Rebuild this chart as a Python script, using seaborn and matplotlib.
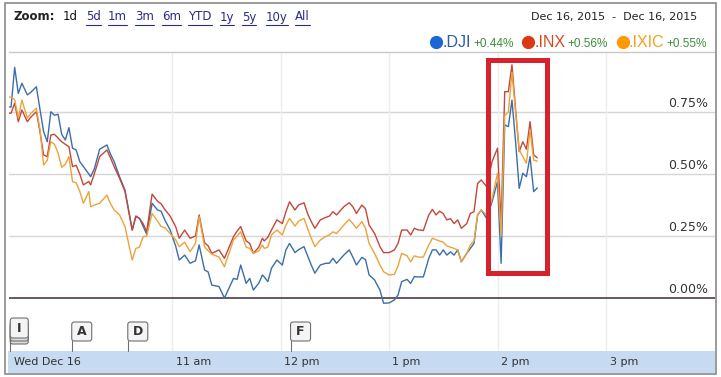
import matplotlib
matplotlib.use("Agg")
import matplotlib.pyplot as plt
import matplotlib.transforms as mtransforms
from matplotlib.patches import Rectangle, FancyBboxPatch
from matplotlib.lines import Line2D
import numpy as np
import pandas as pd
import seaborn as sns

# ---------------- data ----------------
minutes = [0, 1, 3, 5, 7, 10, 12, 15, 17, 19, 21, 23, 25, 27, 29, 31, 33, 35, 37, 39,
           41, 44, 45, 47, 50, 54, 56, 58, 61, 64, 68, 70, 72, 74, 76, 79, 82, 84, 86, 89,
           92, 94, 97, 100, 103, 105, 108, 110, 112, 116, 119, 124, 126, 128, 131, 133, 135, 138, 140, 141,
           143, 145, 148, 151, 153, 155, 158, 160, 163, 165, 167, 169, 172, 175, 177, 179, 181, 185, 188, 190,
           192, 195, 197, 199, 202, 205, 207, 210, 213, 215, 217, 220, 222, 224, 226, 229, 232, 234, 236, 238,
           240, 242, 244, 246, 248, 250, 253, 255, 257, 259, 261, 264, 267, 270, 272, 274, 276, 278, 280, 282,
           284, 286, 288, 290, 292]
dji = [0.77, 0.77, 0.93, 0.825, 0.866, 0.819, 0.83, 0.852, 0.76, 0.671, 0.630, 0.751, 0.737, 0.741, 0.66, 0.637, 0.687, 0.604, 0.597, 0.550,
       0.53, 0.50, 0.489, 0.52, 0.600, 0.617, 0.58, 0.550, 0.489, 0.435, 0.274, 0.328, 0.321, 0.29, 0.257, 0.382, 0.355, 0.35, 0.315, 0.274,
       0.21, 0.153, 0.173, 0.140, 0.15, 0.214, 0.113, 0.105, 0.052, 0.046, 0.0, 0.079, 0.075, 0.133, 0.059, 0.079, 0.032, 0.06, 0.093, 0.085,
       0.066, 0.12, 0.153, 0.133, 0.194, 0.220, 0.183, 0.195, 0.207, 0.17, 0.133, 0.100, 0.133, 0.14, 0.14, 0.160, 0.14, 0.173, 0.194, 0.165,
       0.133, 0.164, 0.155, 0.093, 0.073, 0.032, -0.021, -0.02, -0.008, 0.012, 0.066, 0.075, 0.059, 0.086, 0.085, 0.085, 0.160, 0.194, 0.194, 0.173,
       0.194, 0.173, 0.186, 0.173, 0.194, 0.146, 0.18, 0.200, 0.22, 0.335, 0.355, 0.321, 0.388, 0.469, 0.140, 0.698, 0.691, 0.798, 0.630, 0.442,
       0.503, 0.489, 0.570, 0.429, 0.444]
inx = [0.745, 0.745, 0.786, 0.711, 0.758, 0.711, 0.73, 0.751, 0.67, 0.577, 0.570, 0.657, 0.66, 0.645, 0.63, 0.62, 0.610, 0.53, 0.535, 0.50,
       0.456, 0.47, 0.456, 0.50, 0.570, 0.597, 0.565, 0.530, 0.483, 0.43, 0.274, 0.331, 0.321, 0.30, 0.267, 0.419, 0.39, 0.38, 0.357, 0.33,
       0.288, 0.241, 0.274, 0.241, 0.25, 0.335, 0.223, 0.21, 0.180, 0.194, 0.160, 0.247, 0.27, 0.288, 0.230, 0.220, 0.180, 0.205, 0.241, 0.23,
       0.245, 0.274, 0.315, 0.30, 0.348, 0.388, 0.355, 0.375, 0.384, 0.34, 0.308, 0.281, 0.315, 0.325, 0.33, 0.348, 0.335, 0.368, 0.384, 0.368,
       0.341, 0.375, 0.36, 0.294, 0.261, 0.207, 0.183, 0.183, 0.194, 0.22, 0.274, 0.274, 0.254, 0.281, 0.275, 0.272, 0.335, 0.357, 0.335, 0.35,
       0.34, 0.315, 0.32, 0.30, 0.315, 0.281, 0.30, 0.341, 0.348, 0.462, 0.476, 0.449, 0.550, 0.604, 0.30, 0.832, 0.832, 0.94, 0.76, 0.590,
       0.630, 0.60, 0.711, 0.577, 0.565]
ixic = [0.81, 0.81, 0.80, 0.725, 0.798, 0.725, 0.745, 0.765, 0.68, 0.536, 0.555, 0.63, 0.62, 0.585, 0.527, 0.54, 0.570, 0.469, 0.465, 0.43,
        0.382, 0.429, 0.368, 0.375, 0.382, 0.415, 0.38, 0.355, 0.335, 0.288, 0.153, 0.200, 0.205, 0.247, 0.25, 0.341, 0.31, 0.288, 0.284, 0.26,
        0.235, 0.207, 0.225, 0.187, 0.22, 0.328, 0.207, 0.19, 0.177, 0.165, 0.126, 0.234, 0.25, 0.267, 0.205, 0.200, 0.18, 0.19, 0.214, 0.2,
        0.205, 0.254, 0.274, 0.254, 0.294, 0.321, 0.29, 0.31, 0.321, 0.28, 0.241, 0.207, 0.234, 0.248, 0.254, 0.267, 0.26, 0.294, 0.317, 0.30,
        0.281, 0.308, 0.281, 0.220, 0.180, 0.133, 0.106, 0.093, 0.095, 0.13, 0.180, 0.17, 0.146, 0.17, 0.165, 0.165, 0.214, 0.241, 0.235, 0.23,
        0.225, 0.21, 0.205, 0.20, 0.194, 0.146, 0.18, 0.214, 0.23, 0.335, 0.355, 0.335, 0.402, 0.503, 0.25, 0.735, 0.75, 0.91, 0.75, 0.597,
        0.57, 0.543, 0.677, 0.556, 0.552]

symbols = [".DJI", ".INX", ".IXIC"]
changes = ["+0.44%", "+0.56%", "+0.55%"]
ytick_values = [0.0, 0.25, 0.50, 0.75]
ytick_labels = ["0.00%", "0.25%", "0.50%", "0.75%"]
hour_minutes = [90, 150, 210, 270, 330]
hour_labels = ["11 am", "12 pm", "1 pm", "2 pm", "3 pm"]
day_label = "Wed Dec 16"
zoom_links = ["1d", "5d", "1m", "3m", "6m", "YTD", "1y", "5y", "10y", "All"]
date_range = "Dec 16, 2015  -  Dec 16, 2015"
flag_letters = ["I", "A", "D", "F"]
flag_minutes = [0, 34, 65, 155]

df = pd.concat([
    pd.DataFrame({"minute": minutes, "pct": dji, "symbol": symbols[0]}),
    pd.DataFrame({"minute": minutes, "pct": inx, "symbol": symbols[1]}),
    pd.DataFrame({"minute": minutes, "pct": ixic, "symbol": symbols[2]}),
])

line_colors = {".DJI": "#3b6ea8", ".INX": "#c4473a", ".IXIC": "#eea23c"}
dot_colors = ["#1a66d6", "#dc3912", "#ff9900"]
name_colors = ["#2a5db0", "#d9481c", "#f5a020"]

# ---------------- figure ----------------
sns.set_style("white")
plt.rcParams["font.family"] = ["DejaVu Sans"]
W, H = 721, 377
fig = plt.figure(figsize=(W / 100, H / 100), dpi=100)
fig.patch.set_facecolor("white")
ident = mtransforms.IdentityTransform()

def fx(px):
    return px / W

def fy(py):
    return 1 - py / H

ax_l, ax_r, ax_t, ax_b = 9.25, 714.5, 52, 351
ax = fig.add_axes([fx(ax_l), fy(ax_b), (ax_r - ax_l) / W, (ax_b - ax_t) / H])
ax.set_facecolor("white")

ymin = (298 - 351) / 248
ymax = (298 - 52) / 248
ax.set_xlim(0, 390)
ax.set_ylim(ymin, ymax)

# grid
for v in ytick_values[1:]:
    ax.axhline(v, color="#d6d6d6", lw=1.0, zorder=1)
for m in hour_minutes:
    ax.axvline(m, color="#ededed", lw=1.0, zorder=1)
ax.axhline(0, color="#4e3d49", lw=1.2, zorder=2)

sns.lineplot(data=df, x="minute", y="pct", hue="symbol", hue_order=symbols,
             palette=line_colors, linewidth=1.0, legend=False, ax=ax, zorder=3)

for s in ["left", "right", "bottom"]:
    ax.spines[s].set_visible(False)
ax.spines["top"].set_color("#c8c8c8")
ax.spines["top"].set_linewidth(1.0)
ax.set_xlabel("")
ax.set_ylabel("")
ax.set_yticks([])
ax.set_xticks([0] + hour_minutes)
ax.tick_params(axis="x", direction="in", length=4, width=1, color="#555555", labelbottom=False)

# y labels on the right
tr = mtransforms.blended_transform_factory(ax.transAxes, ax.transData)
tr_y = mtransforms.offset_copy(tr, fig=fig, x=0, y=1.5, units="points")
xr = (708 - ax_l) / (ax_r - ax_l)
for v, lab in zip(ytick_values, ytick_labels):
    ax.text(xr, v, lab, transform=tr_y, ha="right", va="bottom", fontsize=9, color="#333333")

# time band
fig.add_artist(Rectangle((fx(8), fy(373)), (715 - 8) / W, (373 - 351) / H,
                         transform=fig.transFigure, facecolor="#c6dbf2", edgecolor="none", zorder=0))
trx = mtransforms.blended_transform_factory(ax.transData, ax.transAxes)
trx_off = mtransforms.offset_copy(trx, fig=fig, x=3.5, y=0, units="dots")
yb = (ax_b - 362) / (ax_b - ax_t)
ax.text(0, yb, day_label, transform=mtransforms.offset_copy(trx, fig=fig, x=5, y=0, units="dots"),
        ha="left", va="center", fontsize=8, color="#333333", clip_on=False)
for m, lab in zip(hour_minutes, hour_labels):
    ax.text(m, yb, lab, transform=trx_off, ha="left", va="center", fontsize=8,
            color="#333333", clip_on=False)

# news flags (drawn in pixel space anchored at the flag's time)
for letter, m in zip(flag_letters, flag_minutes):
    xd = ax.transData.transform((m, 0))[0]
    xl = xd + 1
    if letter == "I":
        top, bot, wbox = 318, 338, 18
        for k in (6, 3):
            fig.add_artist(FancyBboxPatch((xl, H - bot - k), wbox, bot - top,
                                          boxstyle="round,pad=0,rounding_size=2.5",
                                          transform=ident, fc="#dedede", ec="#6f6f6f", lw=0.8, zorder=5))
    else:
        top, bot, wbox = 322, 341, 20
    fig.add_artist(FancyBboxPatch((xl, H - bot), wbox, bot - top,
                                  boxstyle="round,pad=0,rounding_size=2.5",
                                  transform=ident, fc="#f4f4f4", ec="#6f6f6f", lw=0.8, zorder=6))
    fig.text(xl + wbox / 2, H - (top + bot) / 2, letter, transform=ident, ha="center", va="center",
             fontsize=9, fontweight="bold", color="#333333", zorder=7)
    fig.add_artist(Line2D([xl, xl], [H - bot, H - 351], transform=ident, color="#6f6f6f", lw=0.8, zorder=5))

# highlight box
fig.add_artist(Rectangle((fx(487.5), fy(272.5)), (546.5 - 487.5) / W, (272.5 - 59.5) / H,
                         transform=fig.transFigure, fill=False, edgecolor="#d6222c", lw=3.6, zorder=10))

# outer frame
fig.add_artist(Rectangle((fx(5), fy(374)), (716 - 5) / W, (374 - 3) / H,
                         transform=fig.transFigure, fill=False, edgecolor="#8a8a8a", lw=1.2, zorder=11))

# header: zoom links
fig.text(fx(13), fy(17), "Zoom:", ha="left", va="center", fontsize=8.5, fontweight="bold", color="#222222")
link_x = [63, 86, 108, 135, 162, 188, 220, 242, 266, 295]
link_texts = []
for lab, x in zip(zoom_links, link_x):
    col = "#111111" if lab == "1d" else "#2a2a8a"
    t = fig.text(fx(x), fy(17), lab, ha="left", va="center", fontsize=8.5, color=col)
    link_texts.append((lab, t))
fig.text(fx(697), fy(17), date_range, ha="right", va="center", fontsize=8, color="#222222")

# legend
dot_x = [436, 527.5, 622.5]
name_x = [443, 534, 629]
chg_x = [473, 567, 666]
for i in range(3):
    fig.add_artist(Line2D([fx(dot_x[i])], [fy(42)], marker="o", ms=8.5, color=dot_colors[i],
                          transform=fig.transFigure, lw=0))
    fig.text(fx(name_x[i]), fy(47), symbols[i], ha="left", va="baseline", fontsize=11.5,
             family="Liberation Sans", color=name_colors[i])
    fig.text(fx(chg_x[i]), fy(47), changes[i], ha="left", va="baseline", fontsize=8.5,
             family="Liberation Sans", color="#3a8f3a")

fig.canvas.draw()
renderer = fig.canvas.get_renderer()
for lab, t in link_texts:
    if lab == "1d":
        continue
    bb = t.get_window_extent(renderer)
    yl = bb.y0 - 1
    fig.add_artist(Line2D([bb.x0 / W, bb.x1 / W], [yl / H, yl / H], color="#2a2a8a", lw=0.8,
                          transform=fig.transFigure))

fig.savefig("out.png", dpi=100)
